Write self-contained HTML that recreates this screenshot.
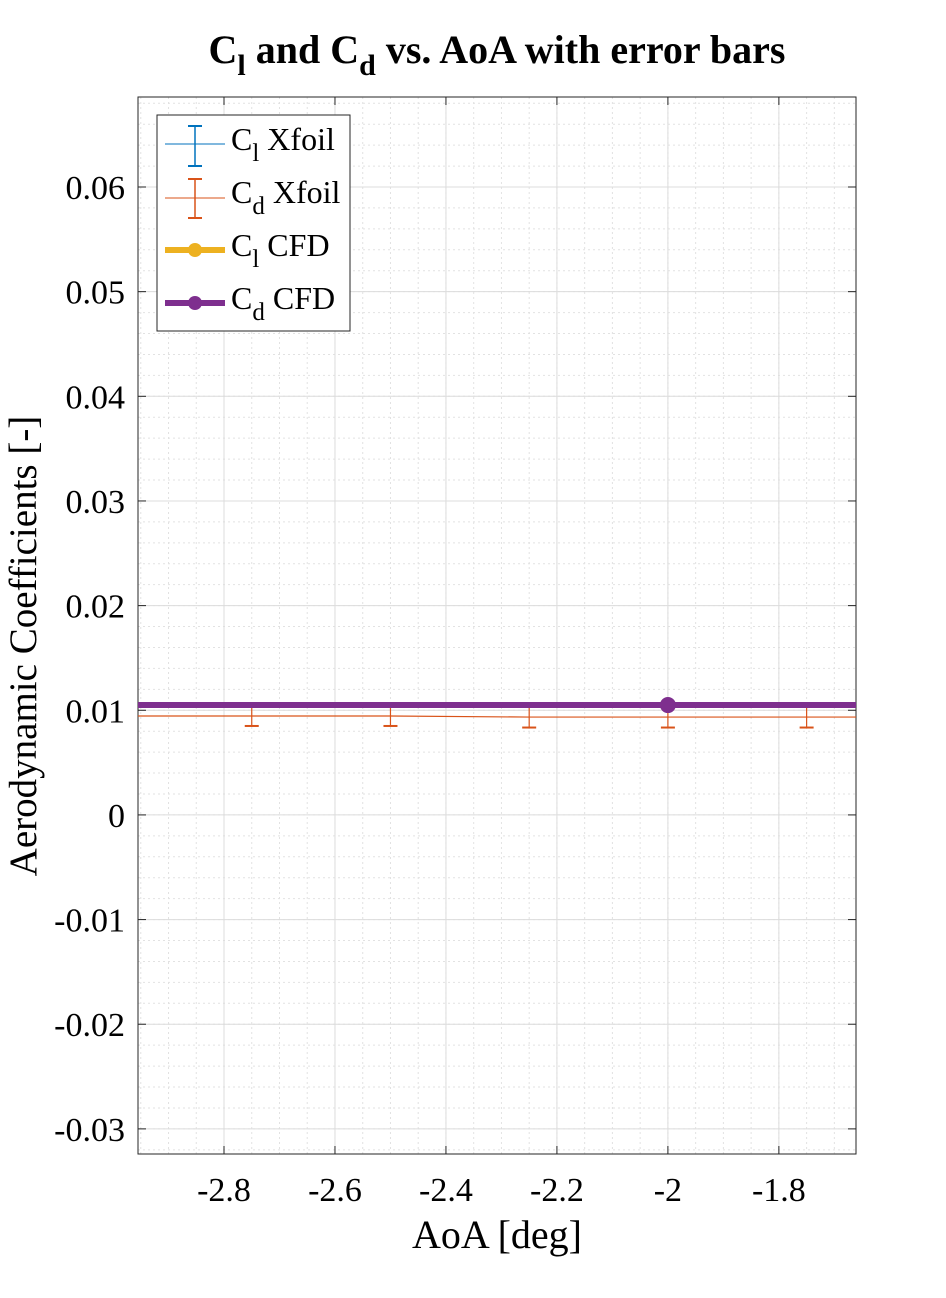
<!DOCTYPE html>
<html><head><meta charset="utf-8"><style>
body{margin:0;background:#fff;}
svg{display:block;font-family:"Liberation Serif",serif;}
</style></head><body>
<svg id="chart" width="946" height="1298">
<g id="grid"></g>
<rect x="138" y="97" width="718" height="1057" fill="none" stroke="#262626" stroke-width="1"/>
<g id="ticks"></g>
<g id="series"></g>
<text x="497" y="63" text-anchor="middle" font-size="40" font-weight="bold">C<tspan font-size="30" dy="12">l</tspan><tspan dy="-12"> and C</tspan><tspan font-size="30" dy="12">d</tspan><tspan dy="-12"> vs. AoA with error bars</tspan></text>
<text x="497" y="1248" text-anchor="middle" font-size="40">AoA [deg]</text>
<text transform="translate(36,646) rotate(-90)" text-anchor="middle" font-size="39">Aerodynamic Coefficients [-]</text>
<g>
<rect x="157" y="115" width="193" height="216" fill="#fff" stroke="#262626" stroke-width="1"/>
<g>
<line x1="165" y1="144" x2="225" y2="144" stroke="#0072BD" stroke-width="1"/>
<line x1="195" y1="126" x2="195" y2="166" stroke="#0072BD" stroke-width="1.5"/>
<line x1="188" y1="126" x2="202" y2="126" stroke="#0072BD" stroke-width="2"/>
<line x1="188" y1="166" x2="202" y2="166" stroke="#0072BD" stroke-width="2"/>
<text x="231" y="150" font-size="32">C<tspan font-size="25" dy="11">l</tspan><tspan dy="-11"> Xfoil</tspan></text></g>
<g>
<line x1="165" y1="198" x2="225" y2="198" stroke="#D95319" stroke-width="1"/>
<line x1="195" y1="179" x2="195" y2="218" stroke="#D95319" stroke-width="1.5"/>
<line x1="188" y1="179" x2="202" y2="179" stroke="#D95319" stroke-width="2"/>
<line x1="188" y1="218" x2="202" y2="218" stroke="#D95319" stroke-width="2"/>
<text x="231" y="203" font-size="32">C<tspan font-size="25" dy="11">d</tspan><tspan dy="-11"> Xfoil</tspan></text></g>
<g>
<line x1="165" y1="250" x2="225" y2="250" stroke="#EDB120" stroke-width="6"/>
<circle cx="195" cy="250" r="7" fill="#EDB120"/>
<text x="231" y="256" font-size="32">C<tspan font-size="25" dy="11">l</tspan><tspan dy="-11"> CFD</tspan></text></g>
<g>
<line x1="165" y1="303" x2="225" y2="303" stroke="#7E2F8E" stroke-width="6"/>
<circle cx="195" cy="303" r="7" fill="#7E2F8E"/>
<text x="231" y="309" font-size="32">C<tspan font-size="25" dy="11">d</tspan><tspan dy="-11"> CFD</tspan></text></g>
</g>
</svg>
<script>
const xTicks=[-2.8,-2.6,-2.4,-2.2,-2,-1.8];
const xTickLabels=["-2.8","-2.6","-2.4","-2.2","-2","-1.8"];
const yTicks=[-0.03,-0.02,-0.01,0,0.01,0.02,0.03,0.04,0.05,0.06];
const yTickLabels=["-0.03","-0.02","-0.01","0","0.01","0.02","0.03","0.04","0.05","0.06"];
const aoaXfoil=[-3,-2.75,-2.5,-2.25,-2,-1.75,-1.5];
const cdXfoil=[0.00945,0.00945,0.00945,0.00935,0.00935,0.00935,0.00935];
const cdXfoilErr=[0.00095,0.00095,0.00095,0.001,0.001,0.001,0.001];
const aoaCfd=[-3,-2,-1];
const cdCfd=[0.0105,0.0105,0.0105];
const cdCfdMarker=[-2];
const X0=138,X1=856,Y0=97,Y1=1154,xmin=-2.955,xmax=-1.661,ymin=-0.0324,ymax=0.0686;
const sx=v=>X0+(v-xmin)/(xmax-xmin)*(X1-X0);
const sy=v=>Y1-(v-ymin)/(ymax-ymin)*(Y1-Y0);
const NS="http://www.w3.org/2000/svg";
function mk(parent,tag,attrs){const e=document.createElementNS(NS,tag);for(const k in attrs)e.setAttribute(k,attrs[k]);parent.appendChild(e);return e;}
const grid=document.getElementById('grid'),ticks=document.getElementById('ticks'),ser=document.getElementById('series');
for(let v=-3.0;v<=-1.6;v+=0.05){const x=sx(v);if(x<=X0||x>=X1)continue;
 const e=mk(grid,'line',{x1:x,x2:x,y1:Y0,y2:Y1,stroke:'#e2e2e2','stroke-width':1,'stroke-dasharray':'2,3'});
 }
for(let i=-17;i<=35;i++){const v=i*0.002;const y=sy(v);if(y<=Y0||y>=Y1)continue;
 const e=mk(grid,'line',{x1:X0,x2:X1,y1:y,y2:y,stroke:'#e2e2e2','stroke-width':1,'stroke-dasharray':'2,3'});
 }
xTicks.forEach((v,i)=>{const x=sx(v);
 let e=mk(grid,'line',{x1:x,x2:x,y1:Y0,y2:Y1,stroke:'#dcdcdc','stroke-width':1});
 
 mk(ticks,'line',{x1:x,x2:x,y1:Y1,y2:Y1-8,stroke:'#262626'});mk(ticks,'line',{x1:x,x2:x,y1:Y0,y2:Y0+8,stroke:'#262626'});
 e=mk(ticks,'text',{x:x,y:1201,'text-anchor':'middle','font-size':34});e.textContent=xTickLabels[i];
 });
yTicks.forEach((v,i)=>{const y=sy(v);
 let e=mk(grid,'line',{x1:X0,x2:X1,y1:y,y2:y,stroke:'#dcdcdc','stroke-width':1});
 
 mk(ticks,'line',{x1:X0,x2:X0+8,y1:y,y2:y,stroke:'#262626'});mk(ticks,'line',{x1:X1,x2:X1-8,y1:y,y2:y,stroke:'#262626'});
 e=mk(ticks,'text',{x:125,y:y+12,'text-anchor':'end','font-size':34});e.textContent=yTickLabels[i];
 });
const clip=mk(document.getElementById('chart'),'clipPath',{id:'cp'});mk(clip,'rect',{x:X0,y:Y0,width:X1-X0,height:Y1-Y0});
ser.setAttribute('clip-path','url(#cp)');
let e=mk(ser,'polyline',{points:aoaXfoil.map((a,i)=>sx(a)+','+sy(cdXfoil[i])).join(' '),fill:'none',stroke:'#D95319','stroke-width':1.2});

aoaXfoil.forEach((a,i)=>{const x=sx(a),yl=sy(cdXfoil[i]-cdXfoilErr[i]),yh=sy(cdXfoil[i]+cdXfoilErr[i]);
 const g=mk(ser,'g',{});
 
 mk(g,'line',{x1:x,x2:x,y1:yl,y2:yh,stroke:'#D95319','stroke-width':1.2});
 mk(g,'line',{x1:x-7,x2:x+7,y1:yl,y2:yl,stroke:'#D95319','stroke-width':2});
 mk(g,'line',{x1:x-7,x2:x+7,y1:yh,y2:yh,stroke:'#D95319','stroke-width':2});});
e=mk(ser,'polyline',{points:aoaCfd.map((a,i)=>sx(a)+','+sy(cdCfd[i])).join(' '),fill:'none',stroke:'#7E2F8E','stroke-width':6});

cdCfdMarker.forEach(a=>{const i=aoaCfd.indexOf(a);
 const c=mk(ser,'circle',{cx:sx(a),cy:sy(cdCfd[i]),r:8,fill:'#7E2F8E'});
 });
</script>
</body></html>
